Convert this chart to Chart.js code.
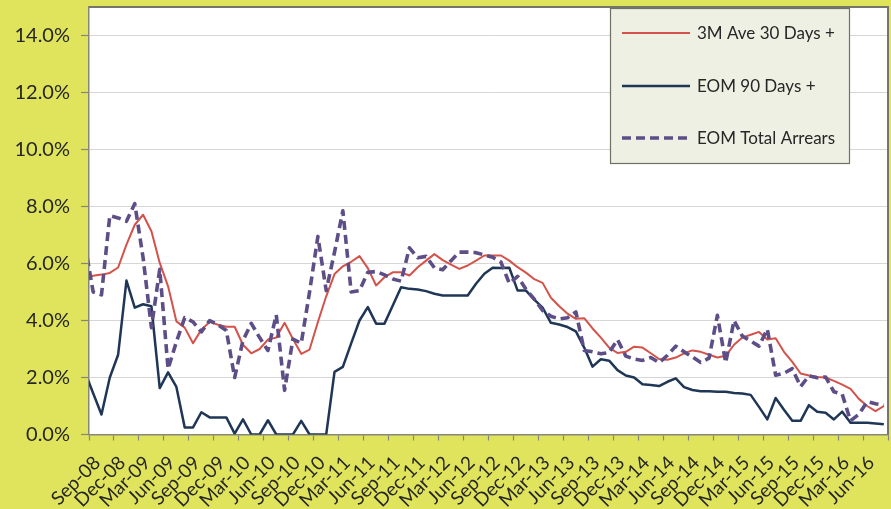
<!DOCTYPE html>
<html>
<head>
<meta charset="utf-8">
<script src="https://cdn.jsdelivr.net/npm/chart.js@4.4.1/dist/chart.umd.min.js"></script>
<style>
  html, body { margin: 0; padding: 0; background: #e0e45c; }
  #wrap { width: 891px; height: 509px; }
</style>
</head>
<body>
<div id="wrap"><canvas id="c" width="891" height="509"></canvas></div>
<script>
// Monthly categories; Aug-08 sits just left of the visible axis so the first segment is clipped
const categories = [
  'Aug-08','Sep-08','Oct-08','Nov-08','Dec-08',
  'Jan-09','Feb-09','Mar-09','Apr-09','May-09','Jun-09','Jul-09','Aug-09','Sep-09','Oct-09','Nov-09','Dec-09',
  'Jan-10','Feb-10','Mar-10','Apr-10','May-10','Jun-10','Jul-10','Aug-10','Sep-10','Oct-10','Nov-10','Dec-10',
  'Jan-11','Feb-11','Mar-11','Apr-11','May-11','Jun-11','Jul-11','Aug-11','Sep-11','Oct-11','Nov-11','Dec-11',
  'Jan-12','Feb-12','Mar-12','Apr-12','May-12','Jun-12','Jul-12','Aug-12','Sep-12','Oct-12','Nov-12','Dec-12',
  'Jan-13','Feb-13','Mar-13','Apr-13','May-13','Jun-13','Jul-13','Aug-13','Sep-13','Oct-13','Nov-13','Dec-13',
  'Jan-14','Feb-14','Mar-14','Apr-14','May-14','Jun-14','Jul-14','Aug-14','Sep-14','Oct-14','Nov-14','Dec-14',
  'Jan-15','Feb-15','Mar-15','Apr-15','May-15','Jun-15','Jul-15','Aug-15','Sep-15','Oct-15','Nov-15','Dec-15',
  'Jan-16','Feb-16','Mar-16','Apr-16','May-16','Jun-16','Jul-16','Aug-16'
];

// Arrears rates in percent
const ave30DaysPlus = [5.5,
  5.57,5.61,5.67,5.86,
  6.66,7.36,7.71,7.13,6.02,5.2,3.97,3.75,3.2,3.68,3.95,3.85,
  3.78,3.78,3.15,2.85,3.0,3.33,3.4,3.92,3.35,2.83,2.98,3.95,
  4.85,5.63,5.9,6.06,6.26,5.84,5.23,5.52,5.69,5.69,5.58,5.87,
  6.1,6.33,6.12,5.96,5.81,5.93,6.1,6.28,6.28,6.28,6.1,5.87,
  5.68,5.45,5.32,4.8,4.5,4.24,4.06,4.08,3.72,3.4,3.05,2.86,
  2.9,3.08,3.05,2.85,2.65,2.62,2.7,2.85,2.95,2.9,2.8,2.7,
  2.76,3.15,3.4,3.5,3.6,3.33,3.38,2.9,2.55,2.14,2.07,2.02,
  2.0,1.88,1.75,1.6,1.25,1.0,0.82,1.0];

const eom90DaysPlus = [2.2,
  1.45,0.7,2.0,2.8,
  5.4,4.45,4.57,4.5,1.63,2.18,1.67,0.25,0.25,0.78,0.6,0.6,
  0.6,0.03,0.53,0,0,0.5,0,0,0,0.48,0,0,
  0,2.2,2.37,3.2,4.0,4.47,3.89,3.89,4.53,5.17,5.11,5.09,
  5.03,4.94,4.88,4.88,4.88,4.88,5.29,5.64,5.85,5.84,5.85,5.05,
  5.05,4.73,4.45,3.92,3.86,3.77,3.62,3.05,2.38,2.64,2.59,2.26,
  2.07,2.0,1.76,1.74,1.7,1.85,1.97,1.66,1.56,1.52,1.52,1.5,
  1.5,1.46,1.44,1.39,0.97,0.53,1.28,0.87,0.48,0.48,1.03,0.8,
  0.76,0.53,0.8,0.41,0.41,0.41,0.39,0.36];

const eomTotalArrears = [6.7,
  5.0,4.9,7.68,7.6,
  7.48,8.1,6.2,3.75,5.8,2.3,3.25,4.1,3.95,3.6,4.0,3.85,
  3.65,2.0,3.3,3.9,3.4,2.95,4.2,1.55,3.35,3.2,5.0,6.95,
  5.05,6.4,7.85,5.0,5.05,5.69,5.72,5.6,5.46,5.38,6.55,6.2,
  6.25,5.85,5.78,6.1,6.4,6.4,6.38,6.3,6.22,6.05,5.3,5.55,
  5.1,4.75,4.35,4.15,4.05,4.1,4.3,2.95,2.9,2.83,2.88,3.33,
  2.75,2.65,2.6,2.7,2.52,2.78,3.1,2.9,2.72,2.53,2.68,4.18,
  2.52,4.0,3.45,3.28,3.1,3.7,2.08,2.15,2.31,1.68,2.06,1.99,
  2.02,1.5,1.41,0.48,0.71,1.15,1.08,1.02];

const seriesNames = ['3M Ave 30 Days +', 'EOM 90 Days +', 'EOM Total Arrears'];
const yTickValues = [0, 2, 4, 6, 8, 10, 12, 14];
const yAxisMax = 15;
const firstShown = 'Sep-08';

const BG = '#e0e45c';
const RED = '#d4524a';
const NAVY = '#1f3656';
const PURPLE = '#5d4e88';
const AXIS = '#86867a';
const TEXT = '#262626';
const FONT = 'Lato, "Open Sans", sans-serif';

const firstIdx = categories.indexOf(firstShown);

// Yellow surround, white plot area, plot frame and the boxed legend
const framePlugin = {
  id: 'frame',
  beforeDraw(chart) {
    const { ctx, chartArea: a } = chart;
    ctx.save();
    ctx.fillStyle = BG;
    ctx.fillRect(0, 0, chart.width, chart.height);
    ctx.fillStyle = '#ffffff';
    ctx.fillRect(a.left, a.top, a.right - a.left, a.bottom - a.top);
    ctx.restore();
  },
  afterDraw(chart) {
    const { ctx, chartArea: a } = chart;
    ctx.save();
    ctx.strokeStyle = '#75756a';
    ctx.lineWidth = 2;
    ctx.beginPath();
    ctx.moveTo(a.left, a.top);
    ctx.lineTo(a.right, a.top);
    ctx.lineTo(a.right, a.bottom);
    ctx.stroke();

    // legend box
    const bx = 610.5, by = 8.5, bw = 239, bh = 155;
    ctx.fillStyle = '#eef0e3';
    ctx.fillRect(bx, by, bw, bh);
    ctx.strokeStyle = '#707064';
    ctx.lineWidth = 1.2;
    ctx.strokeRect(bx, by, bw, bh);

    const rows = [33, 86, 138];
    chart.data.datasets.forEach((ds, i) => {
      const y = rows[i];
      ctx.strokeStyle = ds.borderColor;
      ctx.lineWidth = ds.borderWidth;
      ctx.setLineDash(ds.borderDash || []);
      ctx.beginPath();
      ctx.moveTo(622, y);
      ctx.lineTo(690, y);
      ctx.stroke();
      ctx.setLineDash([]);
      ctx.fillStyle = TEXT;
      ctx.font = '17px ' + FONT;
      ctx.textBaseline = 'middle';
      ctx.textAlign = 'left';
      ctx.fillText(ds.label, 697, y + 1);
    });
    ctx.restore();
  }
};

new Chart(document.getElementById('c'), {
  type: 'line',
  data: {
    labels: categories,
    datasets: [
      { label: seriesNames[0], data: ave30DaysPlus, borderColor: RED, borderWidth: 2, order: 3 },
      { label: seriesNames[1], data: eom90DaysPlus, borderColor: NAVY, borderWidth: 2.5, order: 2 },
      { label: seriesNames[2], data: eomTotalArrears, borderColor: PURPLE, borderWidth: 3.6,
        borderDash: [9, 5], borderCapStyle: 'butt', order: 1 }
    ]
  },
  options: {
    responsive: false,
    animation: false,
    events: [],
    layout: { padding: { top: 7, right: 3, left: 0, bottom: 0 } },
    elements: {
      point: { radius: 0 },
      line: { tension: 0, fill: false, borderJoinStyle: 'round' }
    },
    datasets: { line: { clip: 0 } },
    plugins: { legend: { display: false }, tooltip: { enabled: false } },
    scales: {
      x: {
        type: 'category',
        min: firstShown,
        offset: true,
        afterFit(s) {
          s.height = 74.5;
          s.paddingLeft = 0; s.paddingRight = 0; s.paddingTop = 0; s.paddingBottom = 0;
        },
        grid: {
          offset: true,
          drawOnChartArea: false,
          drawTicks: true,
          tickLength: 6,
          tickWidth: 1.2,
          tickColor: c => (!c.tick || (c.tick.value - firstIdx) % 3 === 0) ? AXIS : 'rgba(0,0,0,0)'
        },
        border: { color: AXIS, width: 1.5 },
        ticks: {
          autoSkip: false,
          maxRotation: 45,
          minRotation: 45,
          padding: 11,
          labelOffset: 4,
          color: TEXT,
          font: { family: FONT, size: 19 },
          callback(value) {
            return (value - firstIdx) % 3 === 0 ? this.getLabelForValue(value) : '';
          }
        }
      },
      y: {
        min: 0,
        max: yAxisMax,
        afterFit(s) {
          s.width = 89;
          s.paddingLeft = 0; s.paddingRight = 0; s.paddingTop = 0; s.paddingBottom = 0;
        },
        afterBuildTicks(s) {
          s.ticks = yTickValues.map(v => ({ value: v }));
          s.min = 0;
          s.max = yAxisMax;
        },
        grid: {
          color: c => (c.tick && c.tick.value === 0) ? 'rgba(0,0,0,0)' : '#d6d6d6',
          lineWidth: 1,
          tickLength: 8,
          tickColor: AXIS,
          tickWidth: 1.2
        },
        border: { color: AXIS, width: 1.5 },
        ticks: {
          padding: 11,
          color: TEXT,
          font: { family: FONT, size: 20 },
          callback: v => v.toFixed(1) + '%'
        }
      }
    }
  },
  plugins: [framePlugin]
});
</script>
</body>
</html>
